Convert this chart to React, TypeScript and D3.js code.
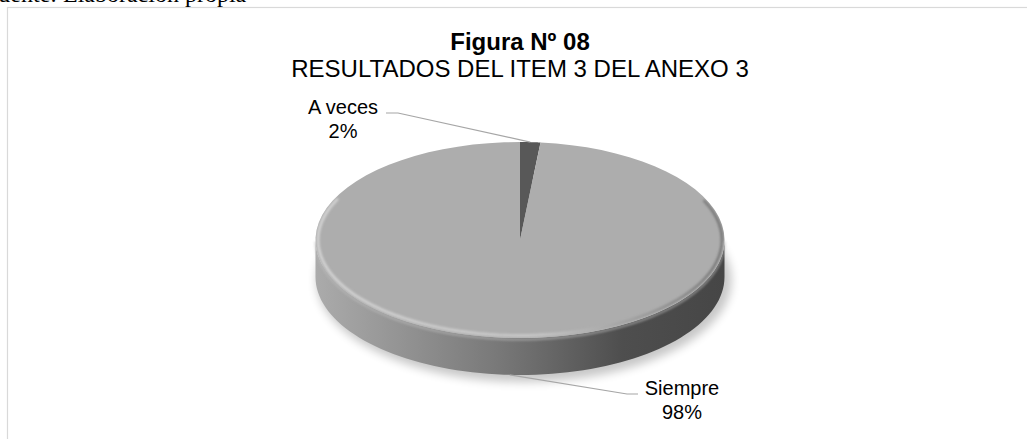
import React, { useEffect, useRef } from 'react';
import * as d3 from 'd3';

// data (share of answers, %)
const categories = ['A veces', 'Siempre'];
const values = [1.6, 98.4];
const sliceColors = ['#585858', '#adadad'];

const titleBold = 'Figura Nº 08';
const titleText = 'RESULTADOS DEL ITEM 3 DEL ANEXO 3';
const sourceText = 'Fuente: Elaboración propia';

const W = 1027, H = 439;

const App = () => {
  const ref = useRef<SVGSVGElement | null>(null);

  useEffect(() => {
    const svg = d3.select(ref.current);
    svg.selectAll('*').remove();

    const cx = 520, cy = 240, rx = 204.5, ry = 98, depth = 37;
    const font = 'Arial, "Liberation Sans", sans-serif';

    const defs = svg.append('defs');
    const wallGrad = defs.append('linearGradient').attr('id', 'wallGrad')
      .attr('gradientUnits', 'userSpaceOnUse')
      .attr('x1', cx - rx).attr('x2', cx + rx).attr('y1', 0).attr('y2', 0);
    wallGrad.append('stop').attr('offset', 0).attr('stop-color', '#ababab');
    wallGrad.append('stop').attr('offset', 0.45).attr('stop-color', '#787878');
    wallGrad.append('stop').attr('offset', 0.75).attr('stop-color', '#4e4e4e');
    wallGrad.append('stop').attr('offset', 1).attr('stop-color', '#464646');

    const rimGrad = defs.append('linearGradient').attr('id', 'rimGrad')
      .attr('gradientUnits', 'userSpaceOnUse')
      .attr('x1', cx - rx).attr('x2', cx + rx).attr('y1', 0).attr('y2', 0);
    rimGrad.append('stop').attr('offset', 0).attr('stop-color', '#d2d2d2');
    rimGrad.append('stop').attr('offset', 0.55).attr('stop-color', '#c6c6c6');
    rimGrad.append('stop').attr('offset', 1).attr('stop-color', '#7a7a7a');

    defs.append('filter').attr('id', 'blur6').attr('x', '-20%').attr('y', '-20%')
      .attr('width', '140%').attr('height', '140%')
      .append('feGaussianBlur').attr('stdDeviation', 5);
    defs.append('filter').attr('id', 'blur1').attr('x', '-5%').attr('y', '-5%')
      .attr('width', '110%').attr('height', '110%')
      .append('feGaussianBlur').attr('stdDeviation', 1.2);

    // frame and source line
    svg.append('rect').attr('x', 7.5).attr('y', 7.5).attr('width', W + 20).attr('height', H + 20)
      .attr('fill', 'none').attr('stroke', '#d9d9d9').attr('stroke-width', 1.2);
    svg.append('text').attr('x', -15).attr('y', 2)
      .attr('font-family', '"Liberation Serif", "Times New Roman", serif').attr('font-size', 24)
      .attr('fill', '#000').text(sourceText);

    // title
    svg.append('text').attr('x', cx).attr('y', 50).attr('text-anchor', 'middle')
      .attr('font-family', font).attr('font-size', 24).attr('font-weight', 'bold').text(titleBold);
    svg.append('text').attr('x', cx).attr('y', 77).attr('text-anchor', 'middle')
      .attr('font-family', font).attr('font-size', 24).text(titleText);

    const pie = d3.pie<number>().sort(null).value(d => d);
    const arcs = pie(values);

    const px = (a: number, k = 0) => cx + (rx - k) * Math.sin(a);
    const py = (a: number, dy = 0, k = 0) => cy - (ry - k) * Math.cos(a) + dy;
    const rim = (a0: number, a1: number, dy = 0, k = 0) =>
      d3.range(0, 81).map(i => {
        const a = a0 + (a1 - a0) * i / 80;
        return [px(a, k), py(a, dy, k)] as [number, number];
      });
    const line = d3.line();

    // soft shadow under the disc
    svg.append('ellipse').attr('cx', cx + 4).attr('cy', cy + depth + 3)
      .attr('rx', rx + 3).attr('ry', ry + 4)
      .attr('fill', '#000').attr('opacity', 0.22).attr('filter', 'url(#blur6)');

    // visible side walls
    arcs.forEach(d => {
      const a0 = Math.max(d.startAngle, Math.PI / 2);
      const a1 = Math.min(d.endAngle, 3 * Math.PI / 2);
      if (a1 <= a0) return;
      const pts = rim(a0, a1).concat(rim(a0, a1, depth).reverse());
      svg.append('path').attr('d', line(pts) + 'Z').attr('fill', 'url(#wallGrad)');
    });

    // top faces
    arcs.forEach((d, i) => {
      const pts = [[cx, cy] as [number, number]].concat(rim(d.startAngle, d.endAngle));
      svg.append('path').attr('d', line(pts) + 'Z').attr('fill', sliceColors[i]);
    });

    // rounded rim highlight on the near half of the top face
    defs.append('clipPath').attr('id', 'topClip')
      .append('ellipse').attr('cx', cx).attr('cy', cy).attr('rx', rx).attr('ry', ry);
    svg.append('path').attr('d', line(rim(1.15, 5.15, 0, 2.5)))
      .attr('fill', 'none').attr('stroke', 'url(#rimGrad)').attr('stroke-width', 3)
      .attr('stroke-linecap', 'round')
      .attr('filter', 'url(#blur1)').attr('clip-path', 'url(#topClip)');
    svg.append('path')
      .attr('d', line(rim(Math.PI / 2, 3 * Math.PI / 2, 1.5)))
      .attr('fill', 'none').attr('stroke', '#bdbdbd').attr('stroke-width', 2.5)
      .attr('opacity', 0.5).attr('filter', 'url(#blur1)');

    // labels with leader lines
    const labelLayout = [
      { bend: [-122, -127], end: [-134, -127], tx: -177, ty: -126 },
      { bend: [107, 154], end: [118, 154], tx: 162, ty: 155 },
    ];
    arcs.forEach((d, i) => {
      const mid = (d.startAngle + d.endAngle) / 2;
      const front = Math.cos(mid) < 0;
      const start: [number, number] = [px(mid), py(mid, front ? depth : 0)];
      const L = labelLayout[i];
      const pts: [number, number][] = [start, [cx + L.bend[0], cy + L.bend[1]], [cx + L.end[0], cy + L.end[1]]];
      svg.append('path').attr('d', line(pts)).attr('fill', 'none')
        .attr('stroke', '#a6a6a6').attr('stroke-width', 1.2);
      const t = svg.append('text').attr('text-anchor', 'middle')
        .attr('font-family', font).attr('font-size', 20).attr('fill', '#000');
      t.append('tspan').attr('x', cx + L.tx).attr('y', cy + L.ty).text(categories[i]);
      t.append('tspan').attr('x', cx + L.tx).attr('y', cy + L.ty + 24)
        .text(Math.round(values[i]) + '%');
    });
  }, []);

  return (
    <svg ref={ref} width={W} height={H}
      style={{ position: 'absolute', left: 0, top: 0, background: '#fff' }} />
  );
};

export default App;
